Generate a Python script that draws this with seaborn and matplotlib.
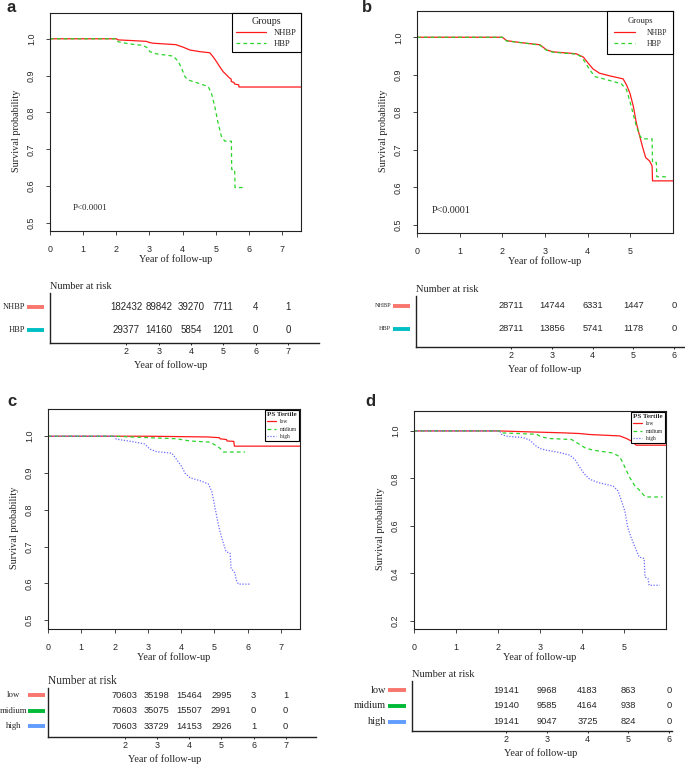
import seaborn as sns
import matplotlib.pyplot as plt
from matplotlib import transforms

# ---------------- survival curves (years, survival) ----------------
# a: all patients
a_nhbp_t = [0, 2.0, 2.05, 2.5, 2.9, 3.0, 3.1, 3.8, 4.02, 4.22, 4.52, 4.82, 4.92, 5.02, 5.12, 5.22, 5.32, 5.42, 5.46, 5.47, 5.55, 5.57, 5.69, 5.70, 7.57]
a_nhbp_s = [1.0, 1.0, 0.997, 0.995, 0.993, 0.99, 0.988, 0.984, 0.977, 0.9695, 0.965, 0.962, 0.951, 0.938, 0.924, 0.911, 0.902, 0.893, 0.891, 0.884, 0.881, 0.877, 0.875, 0.869, 0.869]
a_hbp_t = [0, 2.0, 2.05, 2.4, 2.8, 2.95, 3.01, 3.21, 3.72, 3.87, 3.97, 4.07, 4.17, 4.42, 4.77, 4.87, 4.97, 5.07, 5.17, 5.27, 5.47, 5.48, 5.57, 5.58, 5.84]
a_hbp_s = [1.0, 1.0, 0.992, 0.986, 0.982, 0.975, 0.965, 0.959, 0.953, 0.938, 0.92, 0.897, 0.888, 0.881, 0.87, 0.852, 0.816, 0.771, 0.735, 0.722, 0.722, 0.645, 0.645, 0.596, 0.596]

# b: matched
b_nhbp_t = [0, 2.0, 2.1, 2.41, 2.88, 3.04, 3.19, 3.73, 3.90, 4.01, 4.13, 4.28, 4.52, 4.83, 4.91, 4.99, 5.07, 5.14, 5.22, 5.29, 5.36, 5.45, 5.51, 5.52, 6.0]
b_nhbp_s = [1.0, 1.0, 0.991, 0.986, 0.98, 0.966, 0.961, 0.956, 0.947, 0.931, 0.915, 0.904, 0.897, 0.889, 0.873, 0.851, 0.816, 0.772, 0.736, 0.706, 0.679, 0.67, 0.657, 0.617, 0.617]
b_hbp_t = [0, 2.0, 2.1, 2.41, 2.88, 3.04, 3.19, 3.73, 3.85, 3.93, 4.05, 4.17, 4.44, 4.79, 4.91, 4.99, 5.07, 5.14, 5.22, 5.28, 5.51, 5.52, 5.61, 5.62, 5.88]
b_hbp_s = [1.0, 1.0, 0.99, 0.986, 0.979, 0.965, 0.96, 0.955, 0.948, 0.935, 0.913, 0.895, 0.887, 0.876, 0.86, 0.829, 0.794, 0.763, 0.738, 0.729, 0.729, 0.666, 0.666, 0.628, 0.628]

# c: PS tertiles, all
c_low_t = [0, 3.0, 4.8, 5.15, 5.17, 5.36, 5.38, 5.58, 5.6, 7.57]
c_low_s = [1.0, 1.0, 0.998, 0.996, 0.993, 0.991, 0.987, 0.986, 0.973, 0.973]
c_mid_t = [0, 2.0, 2.5, 3.06, 3.87, 4.27, 4.87, 5.02, 5.17, 5.27, 5.92]
c_mid_s = [1.0, 1.0, 0.998, 0.996, 0.993, 0.987, 0.984, 0.976, 0.967, 0.957, 0.957]
c_high_t = [0, 2.0, 2.05, 2.5, 2.9, 3.06, 3.26, 3.72, 3.87, 4.02, 4.12, 4.27, 4.57, 4.82, 4.92, 5.02, 5.12, 5.22, 5.35, 5.47, 5.5, 5.62, 5.65, 5.72, 6.08]
c_high_s = [1.0, 1.0, 0.992, 0.986, 0.979, 0.965, 0.958, 0.954, 0.936, 0.917, 0.899, 0.887, 0.879, 0.87, 0.85, 0.804, 0.759, 0.723, 0.686, 0.682, 0.641, 0.628, 0.61, 0.598, 0.598]

# d: PS tertiles, matched
d_low_t = [0, 2.04, 2.76, 3.55, 3.95, 4.18, 4.9, 5.06, 5.17, 5.25, 5.29, 6.0]
d_low_s = [1.0, 1.0, 0.996, 0.992, 0.989, 0.985, 0.979, 0.968, 0.958, 0.947, 0.94, 0.94]
d_mid_t = [0, 2.04, 2.08, 2.92, 3.03, 3.23, 3.75, 3.91, 4.06, 4.26, 4.74, 4.9, 5.02, 5.13, 5.25, 5.37, 5.49, 5.53, 5.92]
d_mid_s = [1.0, 1.0, 0.992, 0.986, 0.975, 0.968, 0.964, 0.947, 0.93, 0.919, 0.907, 0.891, 0.848, 0.806, 0.771, 0.75, 0.726, 0.722, 0.722]
d_high_t = [0, 2.04, 2.08, 2.2, 2.6, 2.76, 2.88, 3.0, 3.15, 3.47, 3.71, 3.83, 3.95, 4.06, 4.18, 4.38, 4.74, 4.86, 4.94, 5.02, 5.09, 5.17, 5.25, 5.36, 5.48, 5.5, 5.57, 5.6, 5.85]
d_high_s = [1.0, 1.0, 0.986, 0.978, 0.972, 0.961, 0.94, 0.926, 0.919, 0.909, 0.898, 0.881, 0.846, 0.818, 0.797, 0.783, 0.768, 0.747, 0.705, 0.663, 0.593, 0.551, 0.516, 0.469, 0.463, 0.385, 0.379, 0.35, 0.35]

# ---------------- number at risk tables ----------------
ab_groups = ['NHBP', 'HBP']
cd_groups = ['low', 'midium', 'high']

a_years = [2, 3, 4, 5, 6, 7]
a_risk = [[182432, 89842, 39270, 7711, 4, 1],
          [29377, 14160, 5854, 1201, 0, 0]]
b_years = [2, 3, 4, 5, 6]
b_risk = [[28711, 14744, 6331, 1447, 0],
          [28711, 13856, 5741, 1178, 0]]
c_years = [2, 3, 4, 5, 6, 7]
c_risk = [[70603, 35198, 15464, 2995, 3, 1],
          [70603, 35075, 15507, 2991, 0, 0],
          [70603, 33729, 14153, 2926, 1, 0]]
d_years = [2, 3, 4, 5, 6]
d_risk = [[19141, 9968, 4183, 863, 0],
          [19140, 9585, 4164, 938, 0],
          [19141, 9047, 3725, 824, 0]]

# colours / line styles
curve_colors = ['#ff1a1a', '#2ad42a', '#6b6bff']
curve_styles = ['-', (0, (3, 2.5)), (0, (1, 1.3))]
risk_colors2 = ['#F8766D', '#00BFC4']
risk_colors3 = ['#F8766D', '#00BA38', '#619CFF']

SANS = 'Liberation Sans'
sns.set_style('ticks')
plt.rcParams['font.family'] = ['Liberation Serif', 'DejaVu Serif']
plt.rcParams['axes.linewidth'] = 0.8
plt.rcParams['axes.edgecolor'] = '#222222'

W, H = 685, 765
fig = plt.figure(figsize=(W / 100, H / 100), dpi=100, facecolor='white')


def px_axes(l, t, r, b):
    return fig.add_axes([l / W, 1 - b / H, (r - l) / W, (b - t) / H])


def km_panel(box, curves, xmax, ylim, yticks, xticks, leg_title, leg_fs, title_fs,
             leg_kw, title_bold=False, pval=None):
    ax = px_axes(*box)
    for (t, s, lab), col, ls in zip(curves, curve_colors, curve_styles):
        sns.lineplot(x=t, y=s, ax=ax, color=col, linestyle=ls, linewidth=0.9,
                     label=lab, estimator=None, sort=False)
    ax.set_xlim(0, xmax)
    ax.set_ylim(*ylim)
    ax.set_xticks(xticks)
    ax.set_xticklabels([str(v) for v in xticks], family=SANS, fontsize=6.4)
    ax.set_yticks(yticks)
    ax.set_yticklabels([f'{v:.1f}' for v in yticks], family=SANS, fontsize=6.4,
                       rotation=90, va='center')
    ax.tick_params(axis='both', length=3, width=0.7, color='#444444', pad=7)
    ax.set_xlabel('Year of follow-up', fontsize=7.4)
    ax.set_ylabel('Survival probability', fontsize=7.4)
    hpx = box[3] - box[1]
    wpx = box[2] - box[0]
    ax.xaxis.set_label_coords(0.5, -23 / hpx)
    ax.yaxis.set_label_coords(-29 / wpx, 0.46)
    ax.grid(False)
    tprops = {'size': title_fs, 'weight': 'bold' if title_bold else 'normal'}
    leg = ax.legend(title=leg_title, loc='upper right', fancybox=False, edgecolor='black',
                    framealpha=1, fontsize=leg_fs, title_fontproperties=tprops, **leg_kw)
    leg.get_frame().set_linewidth(0.8)
    if pval is not None:
        ax.text(pval[0], pval[1], 'P<0.0001', fontsize=pval[2], ha='left', va='center')
    return ax


def risk_panel(box, years, risk, groups, colors, xlim, ylim, title_fs, num_fs,
               lab_fs, lab_x, lab_ha, bar_x, xlab_x):
    ax = px_axes(*box)
    n = len(groups)
    blend = transforms.blended_transform_factory(ax.transAxes, ax.transData)
    for i, (g, vals, col) in enumerate(zip(groups, risk, colors)):
        yrow = n - i
        for yr, v in zip(years, vals):
            ax.text(yr, yrow, str(v), ha='center', va='center', family=SANS, fontsize=num_fs)
        ax.text(lab_x, yrow, g, transform=blend, ha=lab_ha, va='center',
                fontsize=lab_fs, clip_on=False)
        ax.plot(bar_x, [yrow, yrow], transform=blend, color=col, lw=2.8,
                solid_capstyle='butt', clip_on=False)
    ax.set_xlim(*xlim)
    ax.set_ylim(*ylim)
    ax.set_xticks(years)
    ax.set_xticklabels([str(v) for v in years], family=SANS, fontsize=6.4)
    ax.set_yticks([])
    ax.tick_params(axis='x', length=1.5, width=0.7, pad=1.5)
    sns.despine(ax=ax)
    ax.spines['left'].set_linewidth(1.0)
    ax.spines['bottom'].set_linewidth(1.0)
    ax.set_xlabel('Year of follow-up', fontsize=7.4)
    hpx = box[3] - box[1]
    ax.xaxis.set_label_coords(xlab_x, -17 / hpx)
    ax.set_title('Number at risk', loc='left', fontsize=title_fs, pad=3)
    ax.set_facecolor('white')
    return ax


leg_ab_a = dict(borderaxespad=0, borderpad=0.5, handlelength=3.6, handletextpad=0.9,
                labelspacing=0.35)
leg_ab_b = dict(borderaxespad=0, borderpad=0.8, handlelength=2.8, handletextpad=1.5,
                labelspacing=0.45)
leg_cd = dict(borderaxespad=0.15, borderpad=0.35, handlelength=1.6, handletextpad=0.7,
              labelspacing=0.45)

# ---------- panel a ----------
km_panel((50, 13, 301, 231),
         [(a_nhbp_t, a_nhbp_s, 'NHBP'), (a_hbp_t, a_hbp_s, 'HBP')],
         7.57, (0.478, 1.07), [0.5, 0.6, 0.7, 0.8, 0.9, 1.0], range(8),
         'Groups', 6.1, 7.2, leg_ab_a, pval=(0.69, 0.54, 6.4))
risk_panel((50, 293, 319, 343), a_years, a_risk, ab_groups, risk_colors2,
           (-0.36, 7.96), (0.43, 2.6), 7.4, 7.0, 6.0, -0.093, 'right',
           [-0.0855, -0.0223], 0.45)

# ---------- panel b ----------
km_panel((417, 11, 673, 233),
         [(b_nhbp_t, b_nhbp_s, 'NHBP'), (b_hbp_t, b_hbp_s, 'HBP')],
         6.0, (0.478, 1.07), [0.5, 0.6, 0.7, 0.8, 0.9, 1.0], range(6),
         'Groups', 5.5, 6.2, leg_ab_b, pval=(0.35, 0.539, 7.3))
risk_panel((416, 296, 685, 347), b_years, b_risk, ab_groups, risk_colors2,
           (-0.34, 6.27), (0.22, 2.43), 7.5, 6.7, 4.5, -0.093, 'right',
           [-0.0855, -0.0223], 0.478)

# ---------- panel c ----------
km_panel((48, 409, 300, 629),
         [(c_low_t, c_low_s, 'low'), (c_mid_t, c_mid_s, 'midium'), (c_high_t, c_high_s, 'high')],
         7.57, (0.476, 1.074), [0.5, 0.6, 0.7, 0.8, 0.9, 1.0], range(8),
         'PS Tertile', 4.0, 5.0, leg_cd, title_bold=True)
risk_panel((48, 688, 316, 737), c_years, c_risk, cd_groups, risk_colors3,
           (-0.38, 7.94), (0.32, 3.48), 8.3, 6.7, 6.3, -0.127, 'center',
           [-0.0746, -0.0112], 0.437)

# ---------- panel d ----------
km_panel((414, 411, 666, 629),
         [(d_low_t, d_low_s, 'low'), (d_mid_t, d_mid_s, 'midium'), (d_high_t, d_high_s, 'high')],
         6.0, (0.166, 1.084), [0.2, 0.4, 0.6, 0.8, 1.0], range(6),
         'PS Tertile', 4.0, 5.0, leg_cd, title_bold=True)
risk_panel((412, 681, 672, 731), d_years, d_risk, cd_groups, risk_colors3,
           (-0.30, 6.07), (0.39, 3.61), 7.5, 6.7, 7.5, -0.1, 'right',
           [-0.092, -0.023], 0.496)

# panel letters
for letter, x, y in [('a', 11.5, 8), ('b', 367, 8), ('c', 11.5, 402), ('d', 370.5, 401)]:
    fig.text(x / W, 1 - y / H, letter, fontsize=12, fontweight='bold', family=SANS,
             ha='center', va='center')

fig.savefig('out.png', dpi=100, facecolor='white')
